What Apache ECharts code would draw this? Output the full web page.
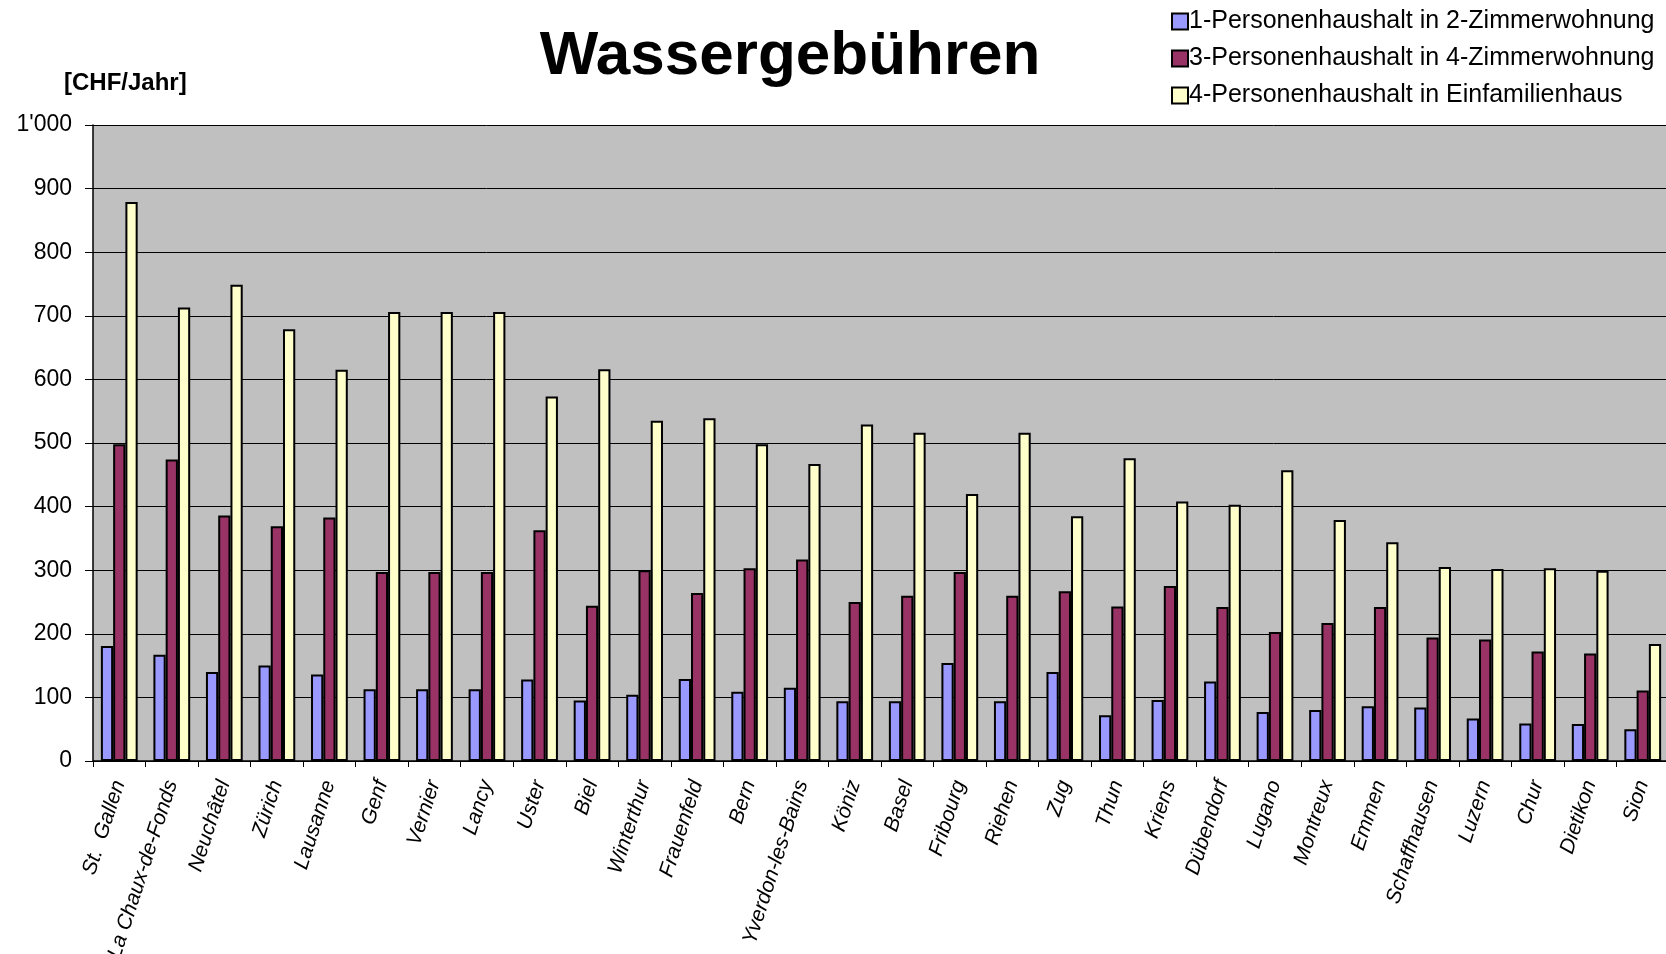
<!DOCTYPE html>
<html>
<head>
<meta charset="utf-8">
<script src="https://cdn.jsdelivr.net/npm/echarts@6/dist/echarts.min.js"></script>
<style>
  html, body { margin: 0; padding: 0; background: #fff; }
  #main { width: 1666px; height: 954px; }
</style>
</head>
<body>
<div id="main"></div>
<script>
// Städte (x-Achse)
const cities = ['St.  Gallen', 'La Chaux-de-Fonds', 'Neuchâtel', 'Zürich', 'Lausanne', 'Genf', 'Vernier', 'Lancy',
  'Uster', 'Biel', 'Winterthur', 'Frauenfeld', 'Bern', 'Yverdon-les-Bains', 'Köniz', 'Basel', 'Fribourg', 'Riehen',
  'Zug', 'Thun', 'Kriens', 'Dübendorf', 'Lugano', 'Montreux', 'Emmen', 'Schaffhausen', 'Luzern', 'Chur', 'Dietikon', 'Sion'];

// Werte in CHF/Jahr
const pers1 = [181, 167, 140, 150, 136, 113, 113, 113, 128, 95, 104, 129, 109, 115, 94, 94, 154, 94, 140, 72,
  96, 125, 77, 80, 86, 84, 67, 59, 58, 50];
const pers3 = [498, 474, 386, 369, 383, 297, 297, 297, 363, 244, 300, 264, 303, 317, 250, 260, 297, 260, 267, 243,
  275, 242, 203, 217, 242, 194, 191, 172, 169, 111];
const pers4 = [879, 713, 749, 679, 615, 706, 706, 706, 573, 616, 535, 539, 498, 467, 529, 516, 420, 516, 385, 476,
  408, 403, 457, 379, 344, 305, 302, 303, 299, 184];

const seriesNames = ['1-Personenhaushalt in 2-Zimmerwohnung', '3-Personenhaushalt in 4-Zimmerwohnung', '4-Personenhaushalt in Einfamilienhaus'];
const colors = ['#9999FF', '#993366', '#FFFFCC'];

const font = '"Liberation Sans", Arial, sans-serif';

const chart = echarts.init(document.getElementById('main'));

function bar (name, data, color) {
  return {
    name: name,
    type: 'bar',
    data: data,
    barGap: '0%',
    barCategoryGap: '30%',
    itemStyle: {
      color: color,
      borderColor: '#000',
      borderWidth: 2
    }
  };
}

chart.setOption({
  animation: false,
  backgroundColor: '#fff',
  textStyle: { fontFamily: font },
  title: {
    text: 'Wassergebühren',
    left: 785,
    top: 21,
    textAlign: 'center',
    textStyle: { fontSize: 62, fontWeight: 'bold', color: '#000', fontFamily: font }
  },
  graphic: [{
    type: 'text',
    left: 64,
    top: 71,
    style: { text: '[CHF/Jahr]', fontSize: 24, fontWeight: 'bold', fill: '#000', fontFamily: font }
  }],
  legend: {
    orient: 'vertical',
    left: 1166,
    top: 4,
    itemGap: 12,
    itemWidth: 16,
    itemHeight: 16,
    icon: 'rect',
    textStyle: { fontSize: 25, color: '#000', fontFamily: font, padding: [0, 0, 0, -4] },
    data: seriesNames
  },
  grid: {
    left: 93,
    top: 125,
    width: 1576,
    height: 636,
    outerBoundsMode: 'none',
    containLabel: false,
    show: true,
    backgroundColor: '#C0C0C0',
    borderWidth: 0
  },
  xAxis: {
    type: 'category',
    data: cities,
    axisLine: { lineStyle: { color: '#000', width: 1.5 } },
    axisTick: { show: true, length: 6, lineStyle: { color: '#000' } },
    axisLabel: {
      interval: 0,
      rotate: 72,
      margin: 20,
      fontSize: 21,
      fontStyle: 'italic',
      color: '#000',
      fontFamily: font
    }
  },
  yAxis: {
    type: 'value',
    min: 0,
    max: 1000,
    interval: 100,
    axisLine: { show: true, lineStyle: { color: '#000', width: 1.5 } },
    axisTick: { show: true, length: 8, lineStyle: { color: '#000' } },
    splitLine: { lineStyle: { color: '#000', width: 1 } },
    axisLabel: {
      fontSize: 23,
      color: '#000',
      margin: 21,
      fontFamily: font,
      formatter: function (v) {
        return v >= 1000 ? Math.floor(v / 1000) + "'" + String(v % 1000).padStart(3, '0') : String(v);
      }
    }
  },
  series: [
    bar(seriesNames[0], pers1, colors[0]),
    bar(seriesNames[1], pers3, colors[1]),
    bar(seriesNames[2], pers4, colors[2])
  ]
});
</script>
</body>
</html>
